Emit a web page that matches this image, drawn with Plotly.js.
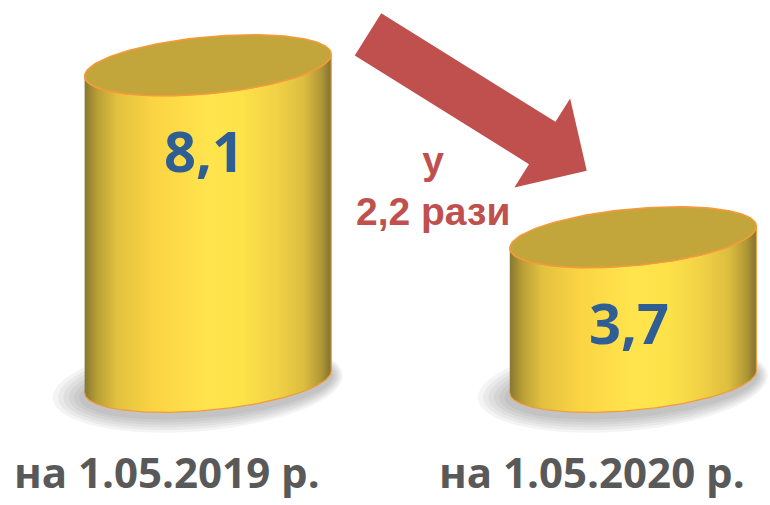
<!DOCTYPE html>
<html><head><meta charset="utf-8">
<script src="https://cdn.plot.ly/plotly-3.0.1.min.js"></script>
<style>html,body{margin:0;padding:0;background:#fff;}#chart{width:770px;height:505px;}</style>
</head><body><div id="chart"></div>
<script>
// ---- data ----
const categories = ['на 1.05.2019 р.', 'на 1.05.2020 р.'];
const values = [8.1, 3.7];
const changeText = ['у', '2,2 рази'];

// ---- style / geometry ----
const RX = 0.29, RY = 0.728, TILT = 0.28, N = 160;
const bodyScale = [
  [0, '#877731'], [0.05, '#b89e36'], [0.13, '#e2c13f'], [0.28, '#fbd443'],
  [0.5, '#ffe44d'], [0.64, '#fde24a'], [0.78, '#f1d145'], [0.89, '#dcbd3f'],
  [0.96, '#b09736'], [1, '#7f7230']
];
const TOP_FILL = '#c3a63b', EDGE = '#f39a3c', ARROW = '#c0504d';

function ellipse(cx, cy, t0, t1, rx, ry, tilt) {
  const xs = [], ys = [];
  for (let k = 0; k <= N; k++) {
    const t = t0 + (t1 - t0) * k / N;
    xs.push(cx + rx * Math.cos(t));
    ys.push(cy + ry * Math.sin(t) + tilt * Math.cos(t));
  }
  return {xs, ys};
}

const traces = [];
values.forEach((v, i) => {
  // soft shadow around the base
  for (let s = 6; s >= 1; s--) {
    const e = ellipse(i - 0.004 * s, -0.12, 0, 2 * Math.PI, RX + s * 0.0085, RY + s * 0.07, TILT);
    traces.push({x: e.xs, y: e.ys, mode: 'lines', fill: 'toself', line: {width: 0},
      fillcolor: 'rgba(60,60,60,0.055)', hoverinfo: 'skip', showlegend: false});
  }
});
values.forEach((v, i) => {
  const bot = ellipse(i, 0, Math.PI, 2 * Math.PI, RX, RY, TILT);
  const top = ellipse(i, v, 2 * Math.PI, Math.PI, RX, RY, TILT);
  traces.push({
    x: bot.xs.concat(top.xs), y: bot.ys.concat(top.ys),
    mode: 'lines', fill: 'toself',
    fillgradient: {type: 'horizontal', colorscale: bodyScale},
    line: {color: EDGE, width: 1.2}, hoverinfo: 'skip', showlegend: false
  });
  const cap = ellipse(i, v, 0, 2 * Math.PI, RX, RY, TILT);
  traces.push({x: cap.xs, y: cap.ys, mode: 'lines', fill: 'toself', fillcolor: TOP_FILL,
    line: {color: EDGE, width: 1.6}, hoverinfo: 'skip', showlegend: false});
});

const annotations = [];
values.forEach((v, i) => {
  annotations.push({
    x: i, y: v, xref: 'x', yref: 'y', yshift: -85, xshift: -4,
    text: v.toFixed(1).replace('.', ','), showarrow: false,
    font: {family: 'Open Sans', size: 56, color: '#2f5e95', weight: 700},
    xanchor: 'center', yanchor: 'middle'
  });
  annotations.push({
    x: i, y: 0.066, xref: 'x', yref: 'paper', xshift: -41,
    text: categories[i], showarrow: false,
    font: {family: 'Open Sans', size: 42, color: '#595959', weight: 700},
    xanchor: 'center', yanchor: 'middle'
  });
});
// big arrow: shaft
annotations.push({
  x: 0.791, y: 6.08, xref: 'x', yref: 'y',
  ax: 0.373, ay: 8.915, axref: 'x', ayref: 'y',
  text: '', showarrow: true, arrowhead: 0, arrowwidth: 50,
  arrowcolor: ARROW, standoff: 0
});
// big arrow: head
annotations.push({
  x: 0.891, y: 5.40, xref: 'x', yref: 'y',
  ax: 0.80, ay: 6.02, axref: 'x', ayref: 'y',
  text: '', showarrow: true, arrowhead: 1, arrowsize: 17.5, arrowwidth: 1,
  arrowcolor: ARROW, standoff: 0
});
annotations.push({
  x: 0.562, y: 0.632, xref: 'paper', yref: 'paper',
  text: changeText.join('<br>'), showarrow: false, align: 'center',
  font: {family: 'Liberation Sans', size: 39, color: '#c0504d', weight: 700},
  xanchor: 'center', yanchor: 'middle'
});

const layout = {
  width: 770, height: 505,
  margin: {l: 0, r: 0, t: 0, b: 0},
  paper_bgcolor: '#ffffff', plot_bgcolor: '#ffffff',
  xaxis: {range: [-0.489, 1.322], visible: false, fixedrange: true},
  yaxis: {range: [-3.15, 9.77], visible: false, fixedrange: true},
  showlegend: false,
  annotations: annotations
};
Plotly.newPlot('chart', traces, layout, {staticPlot: true, displayModeBar: false});
</script>
</body></html>
